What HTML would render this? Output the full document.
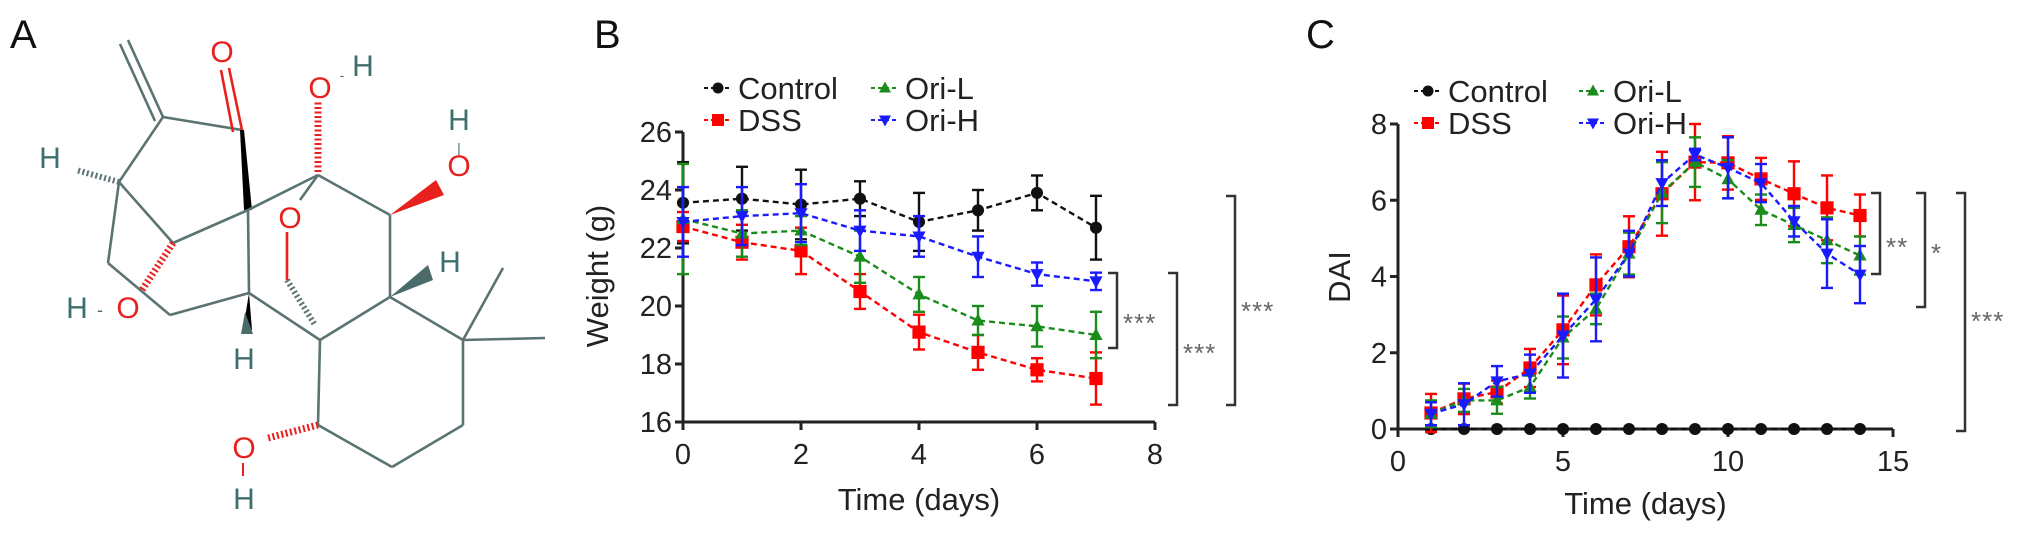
<!DOCTYPE html>
<html><head><meta charset="utf-8"><style>
html,body{margin:0;padding:0;background:#fff;}
svg{display:block;font-family:"Liberation Sans",Arial,sans-serif;}
</style></head><body>
<svg id="fig" width="2032" height="536" viewBox="0 0 2032 536" xmlns="http://www.w3.org/2000/svg">
<g stroke="#5b7373" stroke-width="2.6" fill="none">
  <text x="10" y="48" font-size="40" fill="#111" stroke="none">A</text>
  <line x1="128" y1="40" x2="163" y2="117"/><line x1="120" y1="44" x2="155" y2="121"/>
  <line x1="163" y1="117" x2="242" y2="130"/>
  <line x1="242" y1="130" x2="229" y2="68" stroke="#e8201e"/><line x1="233" y1="132" x2="221" y2="70" stroke="#e8201e"/>
  <line x1="163" y1="117" x2="119" y2="182"/>
  <line x1="119" y1="182" x2="76" y2="170" stroke-width="6" stroke-dasharray="2,2.5"/>
  <polygon points="240,130 244,130 252,210 244,210" fill="#000" stroke="none"/>
  <line x1="119" y1="182" x2="173" y2="243"/><line x1="173" y1="243" x2="248" y2="210"/>
  <line x1="119" y1="182" x2="108" y2="263"/><line x1="108" y1="263" x2="170" y2="315"/>
  <line x1="170" y1="315" x2="249" y2="293"/><line x1="248" y1="210" x2="249" y2="293"/>
  <polygon points="249,293 243,330 252,330" fill="#000" stroke="none"/>
  <polygon points="245,312 241,334 253,334" fill="#4b6b6b" stroke="none"/>
  <line x1="173" y1="243" x2="142" y2="290" stroke="#e8201e" stroke-width="7" stroke-dasharray="2,2.5"/>
  <line x1="248" y1="210" x2="318" y2="175"/>
  <line x1="318" y1="172" x2="318" y2="100" stroke="#e8201e" stroke-width="7" stroke-dasharray="2,2.5"/>
  <line x1="318" y1="175" x2="300" y2="200"/>
  <line x1="287" y1="232" x2="287" y2="280" stroke="#e8201e"/>
  <line x1="287" y1="280" x2="315" y2="325" stroke-width="6" stroke-dasharray="2,2.5"/>
  <line x1="249" y1="293" x2="320" y2="340"/>
  <line x1="318" y1="175" x2="390" y2="215"/>
  <polygon points="390,215 436,180 444,195" fill="#e8201e" stroke="none"/>
  <line x1="390" y1="215" x2="390" y2="297"/>
  <polygon points="390,297 428,265 433,280" fill="#4b6b6b" stroke="none"/>
  <line x1="390" y1="297" x2="320" y2="340"/><line x1="390" y1="297" x2="463" y2="340"/>
  <line x1="463" y1="340" x2="503" y2="268"/><line x1="463" y1="340" x2="545" y2="338"/>
  <line x1="320" y1="340" x2="318" y2="425"/><line x1="318" y1="425" x2="392" y2="467"/>
  <line x1="392" y1="467" x2="463" y2="425"/><line x1="463" y1="425" x2="463" y2="340"/>
  <line x1="318" y1="425" x2="268" y2="438" stroke="#e8201e" stroke-width="7" stroke-dasharray="2,2.5"/>
  <line x1="243" y1="463" x2="243" y2="476" stroke="#e8201e" stroke-width="2"/>
  <g stroke="none" font-size="30" text-anchor="middle">
    <text x="222" y="62" fill="#e8201e">O</text>
    <text x="320" y="98" fill="#e8201e">O</text><text x="342" y="80" fill="#4b6b6b" font-size="14">-</text><text x="363" y="76" fill="#3f6e6e">H</text>
    <text x="459" y="130" fill="#3f6e6e">H</text><text x="459" y="153" fill="#4b6b6b" font-size="14">|</text><text x="459" y="176" fill="#e8201e">O</text>
    <text x="50" y="168" fill="#3f6e6e">H</text>
    <text x="290" y="228" fill="#e8201e">O</text>
    <text x="450" y="272" fill="#3f6e6e">H</text>
    <text x="77" y="318" fill="#3f6e6e">H</text><text x="100" y="316" fill="#4b6b6b" font-size="18">-</text><text x="128" y="318" fill="#e8201e">O</text>
    <text x="244" y="369" fill="#3f6e6e">H</text>
    <text x="244" y="458" fill="#e8201e">O</text>
    <text x="244" y="509" fill="#3f6e6e">H</text>
  </g>
</g>
<g id="pb"></g>
<g id="pc"></g>
</svg>
<script>
const NS='http://www.w3.org/2000/svg';
const groups=['Control','DSS','Ori-L','Ori-H'];
const colors=['#111111','#ff0000','#1a8c1a','#1a1aff'];
const bDays=[0,1,2,3,4,5,6,7];
const bControl=[23.56,23.7,23.5,23.7,22.9,23.3,23.9,22.7];
const bControlErr=[1.4,1.1,1.2,0.6,1.0,0.7,0.6,1.1];
const bDSS=[22.74,22.2,21.9,20.5,19.1,18.4,17.8,17.5];
const bDSSErr=[0.5,0.6,0.8,0.6,0.6,0.6,0.4,0.9];
const bOriL=[23.0,22.5,22.6,21.7,20.4,19.5,19.3,19.0];
const bOriLErr=[1.9,0.8,0.5,0.9,0.6,0.5,0.7,0.8];
const bOriH=[22.9,23.1,23.2,22.6,22.4,21.7,21.1,20.85];
const bOriHErr=[1.2,1.0,1.0,0.7,0.7,0.7,0.4,0.3];
const bXTicks=[0,2,4,6,8];
const bYTicks=[16,18,20,22,24,26];
const cDays=[1,2,3,4,5,6,7,8,9,10,11,12,13,14];
const cControl=[0,0,0,0,0,0,0,0,0,0,0,0,0,0];
const cControlErr=[0,0,0,0,0,0,0,0,0,0,0,0,0,0];
const cDSS=[0.42,0.79,0.97,1.6,2.6,3.78,4.78,6.17,7.0,6.98,6.56,6.17,5.8,5.6];
const cDSSErr=[0.5,0.4,0.3,0.5,0.9,0.8,0.8,1.1,1.0,0.7,0.55,0.85,0.85,0.55];
const cOriL=[0.4,0.75,0.75,1.1,2.4,3.15,4.6,6.2,7.0,6.55,5.75,5.35,4.95,4.55];
const cOriLErr=[0.35,0.3,0.35,0.3,0.55,0.4,0.55,0.8,0.65,0.5,0.4,0.45,0.6,0.5];
const cOriH=[0.4,0.65,1.25,1.45,2.45,3.4,4.6,6.45,7.2,6.85,6.45,5.45,4.6,4.05];
const cOriHErr=[0.3,0.55,0.4,0.5,1.1,1.1,0.6,0.6,0.15,0.8,0.5,0.4,0.9,0.75];
const cXTicks=[0,5,10,15];
const cYTicks=[0,2,4,6,8];

function mk(p,tag,at){const e=document.createElementNS(NS,tag);for(const k in at)e.setAttribute(k,at[k]);p.appendChild(e);return e;}
function marker(g,i,x,y,s){
  if(i===0)return mk(g,'circle',{cx:x,cy:y,r:s*0.55,fill:colors[i]});
  if(i===1)return mk(g,'rect',{x:x-s*0.6,y:y-s*0.6,width:s*1.2,height:s*1.2,fill:colors[i]});
  if(i===2)return mk(g,'polygon',{points:`${x},${y-s*0.65} ${x-s*0.6},${y+s*0.45} ${x+s*0.6},${y+s*0.45}`,fill:colors[i]});
  return mk(g,'polygon',{points:`${x},${y+s*0.65} ${x-s*0.6},${y-s*0.45} ${x+s*0.6},${y-s*0.45}`,fill:colors[i]});
}
function chart(root,o){
  const X=v=>o.x0+(v-o.xmin)/(o.xmax-o.xmin)*(o.x1-o.x0);
  const Y=v=>o.y0-(v-o.ymin)/(o.ymax-o.ymin)*(o.y0-o.y1);
  const ax=mk(root,'g',{stroke:'#222','stroke-width':3});
  
  
  mk(ax,'line',{x1:o.x0,y1:o.y0,x2:X(o.xmax),y2:o.y0});
  mk(ax,'line',{x1:o.x0,y1:o.y0+1,x2:o.x0,y2:Y(o.ymax)});
  o.xt.forEach(t=>{mk(ax,'line',{x1:X(t),y1:o.y0,x2:X(t),y2:o.y0+8});
    const tx=mk(root,'text',{x:X(t),y:o.y0+42,'font-size':29,'text-anchor':'middle',fill:'#222'});tx.textContent=t;
    
    });
  o.yt.forEach(t=>{mk(ax,'line',{x1:o.x0-8,y1:Y(t),x2:o.x0,y2:Y(t)});
    const tx=mk(root,'text',{x:o.x0-11,y:Y(t)+10,'font-size':29,'text-anchor':'end',fill:'#222'});tx.textContent=t;
    
    });
  const xt=mk(root,'text',{x:(o.x0+X(o.xmax))/2,y:o.titleY,'font-size':31,'text-anchor':'middle',fill:'#222'});xt.textContent='Time (days)';
  
  
  const yt=mk(root,'text',{x:0,y:0,'font-size':31,'text-anchor':'middle',fill:'#222',transform:`translate(${o.ytx},${o.yty}) rotate(-90)`});yt.textContent=o.ytitle;
  
  
  o.series.forEach((s,i)=>{
    const g=mk(root,'g',{});
    
    
    const pts=o.xs.map((d,k)=>X(d)+','+Y(s[k])).join(' ');
    mk(g,'polyline',{points:pts,fill:'none',stroke:colors[i],'stroke-width':2.4,'stroke-dasharray':'6,4'});
    o.xs.forEach((d,k)=>{const e=o.errs[i][k];if(e>0){
      const eg=mk(g,'g',{stroke:colors[i],'stroke-width':2.4});
      mk(eg,'line',{x1:X(d),y1:Y(s[k]-e),x2:X(d),y2:Y(s[k]+e)});
      mk(eg,'line',{x1:X(d)-6,y1:Y(s[k]-e),x2:X(d)+6,y2:Y(s[k]-e)});
      mk(eg,'line',{x1:X(d)-6,y1:Y(s[k]+e),x2:X(d)+6,y2:Y(s[k]+e)});}
      const m=marker(g,i,X(d),Y(s[k]),11);
      
      });
  });
  // legend
  const lg=mk(root,'g',{});
  
  
  const pos=[[0,0],[0,1],[1,0],[1,1]];
  groups.forEach((n,i)=>{
    const lx=o.lx+pos[i][0]*o.lcol, ly=o.ly+pos[i][1]*32;
    const e=mk(lg,'g',{});
    
    
    mk(e,'line',{x1:lx-14,y1:ly,x2:lx+14,y2:ly,stroke:colors[i],'stroke-width':2,'stroke-dasharray':'4,3'});
    marker(e,i,lx,ly,10);
    const t=mk(e,'text',{x:lx+20,y:ly+11,'font-size':31,fill:'#222'});t.textContent=n;
  });
  // brackets
  o.brackets.forEach(b=>{
    const bg=mk(root,'g',{});
    
    
    mk(bg,'polyline',{points:`${b[0]-9},${b[1]} ${b[0]},${b[1]} ${b[0]},${b[2]} ${b[0]-9},${b[2]}`,fill:'none',stroke:'#333','stroke-width':2.5});
    const t=mk(bg,'text',{x:b[0]+6,y:b[4],'font-size':26,fill:'#666','letter-spacing':'1'});t.textContent=b[3];
  });
}
const lab=(x,y,t,n)=>{const e=mk(document.getElementById('fig'),'text',{x:x,y:y,'font-size':40,fill:'#111'});e.textContent=t;
  
  };
lab(594,48,'B','panel-b-label');lab(1306,48,'C','panel-c-label');
chart(document.getElementById('pb'),{x0:683,x1:1155,xmin:0,xmax:8,y0:422,y1:132,ymin:16,ymax:26,
  xt:bXTicks,yt:bYTicks,xs:bDays,series:[bControl,bDSS,bOriL,bOriH],errs:[bControlErr,bDSSErr,bOriLErr,bOriHErr],
  ytitle:'Weight (g)',ytx:608,yty:276,titleY:510,lx:718,ly:88,lcol:167,
  brackets:[[1117,273,348,'***',332],[1177,273,405,'***',362],[1235,196,405,'***',320]]});
chart(document.getElementById('pc'),{x0:1398,x1:1893,xmin:0,xmax:15,y0:429,y1:124,ymin:0,ymax:8,
  xt:cXTicks,yt:cYTicks,xs:cDays,series:[cControl,cDSS,cOriL,cOriH],errs:[cControlErr,cDSSErr,cOriLErr,cOriHErr],
  ytitle:'DAI',ytx:1350,yty:277,titleY:514,lx:1428,ly:91,lcol:165,
  brackets:[[1880,193,274,'**',256],[1925,193,307,'*',262],[1965,193,431,'***',330]]});
</script>
</body></html>
